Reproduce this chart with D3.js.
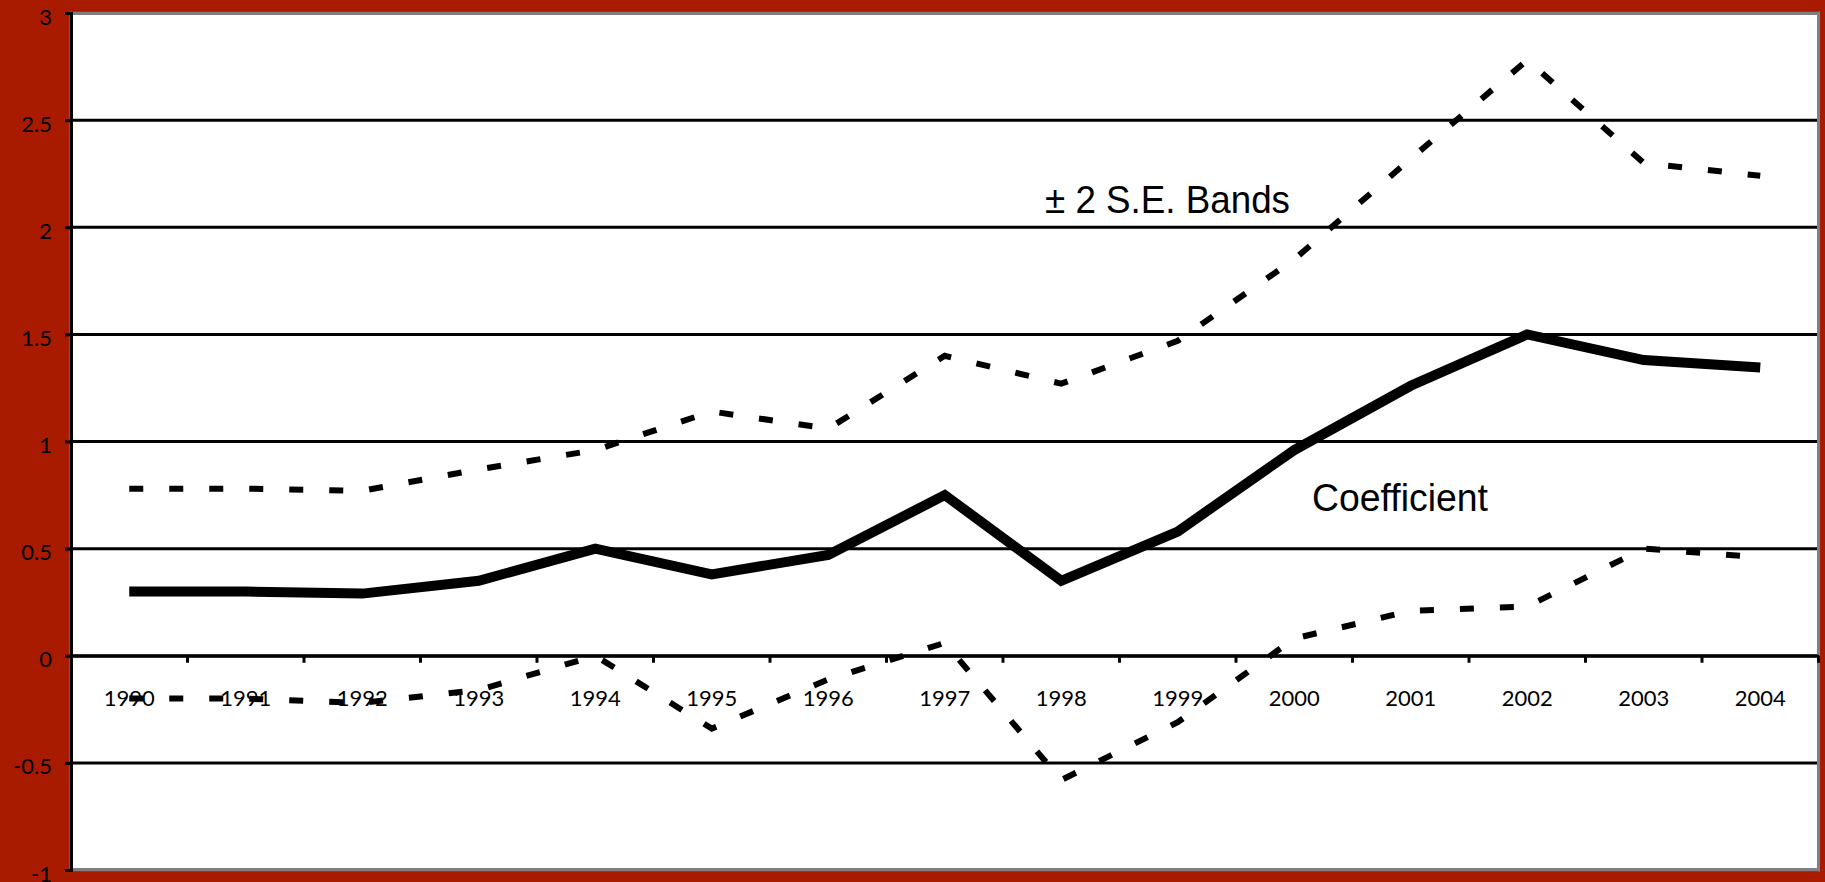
<!DOCTYPE html>
<html>
<head>
<meta charset="utf-8">
<script src="https://cdnjs.cloudflare.com/ajax/libs/d3/7.8.5/d3.min.js"></script>
<style>
  body { margin: 0; background: #a81b00; overflow: hidden; }
  .axis text { font-family: Lato, "Open Sans", sans-serif; font-size: 22px; fill: #000; }
  .note { font-family: "Liberation Sans", Arial, sans-serif; font-size: 39px; fill: #000; }
</style>
</head>
<body>
<div id="chart"></div>
<script>
// Chart data
var years = ["1990", "1991", "1992", "1993", "1994", "1995", "1996", "1997",
  "1998", "1999", "2000", "2001", "2002", "2003", "2004"];
var coefficient = [0.30, 0.30, 0.29, 0.35, 0.50, 0.38, 0.47, 0.75, 0.35, 0.58, 0.96, 1.26, 1.50, 1.38, 1.345];
var upperBand = [0.78, 0.78, 0.77, 0.87, 0.96, 1.14, 1.06, 1.40, 1.27, 1.47, 1.85, 2.32, 2.78, 2.30, 2.24];
var lowerBand = [-0.20, -0.20, -0.22, -0.16, 0.00, -0.34, -0.11, 0.06, -0.58, -0.31, 0.08, 0.21, 0.23, 0.50, 0.46];
var yTicks = [-1, -0.5, 0, 0.5, 1, 1.5, 2, 2.5, 3];

// Set width, height, and margins for SVG object
var svgWidth = 1825;
var svgHeight = 882;

var margin = {
  top: 13,
  right: 6.5,
  bottom: 12,
  left: 71
};

var width = svgWidth - margin.left - margin.right;
var height = svgHeight - margin.top - margin.bottom;

var svg = d3.select("#chart")
  .append("svg")
  .attr("width", svgWidth)
  .attr("height", svgHeight)
  .style("display", "block");

var chartGroup = svg.append("g")
  .attr("transform", `translate(${margin.left}, ${margin.top})`);

// scales
var xBandScale = d3.scaleBand()
  .domain(years)
  .range([0, width])
  .padding(0);

var yLinearScale = d3.scaleLinear()
  .domain([-1, 3])
  .range([height, 0]);

// white plot area
chartGroup.append("rect")
  .attr("width", width)
  .attr("height", height)
  .attr("fill", "#fff");

// horizontal gridlines
chartGroup.selectAll(".grid")
  .data(yTicks)
  .enter()
  .append("line")
  .attr("class", "grid")
  .attr("x1", 0)
  .attr("x2", width)
  .attr("y1", d => yLinearScale(d))
  .attr("y2", d => yLinearScale(d))
  .attr("stroke", "#000")
  .attr("stroke-width", 3);

// gray border of the plot area
chartGroup.append("rect")
  .attr("width", width)
  .attr("height", height)
  .attr("fill", "none")
  .attr("stroke", "#808080")
  .attr("stroke-width", 3);

// x axis sits on zero, labels in the middle of each band
var bottomAxis = d3.axisBottom(xBandScale)
  .tickSize(0)
  .tickPadding(35);

var xAxis = chartGroup.append("g")
  .attr("class", "axis")
  .attr("transform", `translate(0, ${yLinearScale(0)})`)
  .call(bottomAxis);

xAxis.select(".domain").attr("stroke", "#000").attr("stroke-width", 3);

// tick marks between the categories
var boundaries = years.slice(1).map(d => xBandScale(d)).concat([width]);
xAxis.selectAll(".bound")
  .data(boundaries)
  .enter()
  .append("line")
  .attr("class", "bound")
  .attr("x1", d => d)
  .attr("x2", d => d)
  .attr("y1", 0)
  .attr("y2", 7)
  .attr("stroke", "#000")
  .attr("stroke-width", 3);

// y axis
var leftAxis = d3.axisLeft(yLinearScale)
  .tickValues(yTicks)
  .tickSize(6)
  .tickPadding(13)
  .tickFormat(d => String(d));

var yAxis = chartGroup.append("g")
  .attr("class", "axis")
  .call(leftAxis);

yAxis.select(".domain").attr("stroke", "#000").attr("stroke-width", 3);
yAxis.selectAll(".tick line").attr("stroke", "#000").attr("stroke-width", 3);
yAxis.selectAll(".tick text").attr("dy", "0.5em");

// lines
var lineGen = d3.line()
  .x((d, i) => xBandScale(years[i]) + xBandScale.bandwidth() / 2)
  .y(d => yLinearScale(d));

chartGroup.append("path")
  .datum(upperBand)
  .attr("d", lineGen)
  .attr("fill", "none")
  .attr("stroke", "#000")
  .attr("stroke-width", 6)
  .attr("stroke-dasharray", "14,26");

chartGroup.append("path")
  .datum(lowerBand)
  .attr("d", lineGen)
  .attr("fill", "none")
  .attr("stroke", "#000")
  .attr("stroke-width", 6)
  .attr("stroke-dasharray", "14,26");

chartGroup.append("path")
  .datum(coefficient)
  .attr("d", lineGen)
  .attr("fill", "none")
  .attr("stroke", "#000")
  .attr("stroke-width", 10)
  .attr("stroke-linejoin", "miter");

// text labels
chartGroup.append("text")
  .attr("class", "note")
  .attr("x", 1045 - margin.left)
  .attr("y", yLinearScale(2.066))
  .attr("textLength", 245)
  .attr("lengthAdjust", "spacingAndGlyphs")
  .text("± 2 S.E. Bands");

chartGroup.append("text")
  .attr("class", "note")
  .attr("x", 1312 - margin.left)
  .attr("y", yLinearScale(0.676))
  .attr("textLength", 176)
  .attr("lengthAdjust", "spacingAndGlyphs")
  .text("Coefficient");
</script>
</body>
</html>
